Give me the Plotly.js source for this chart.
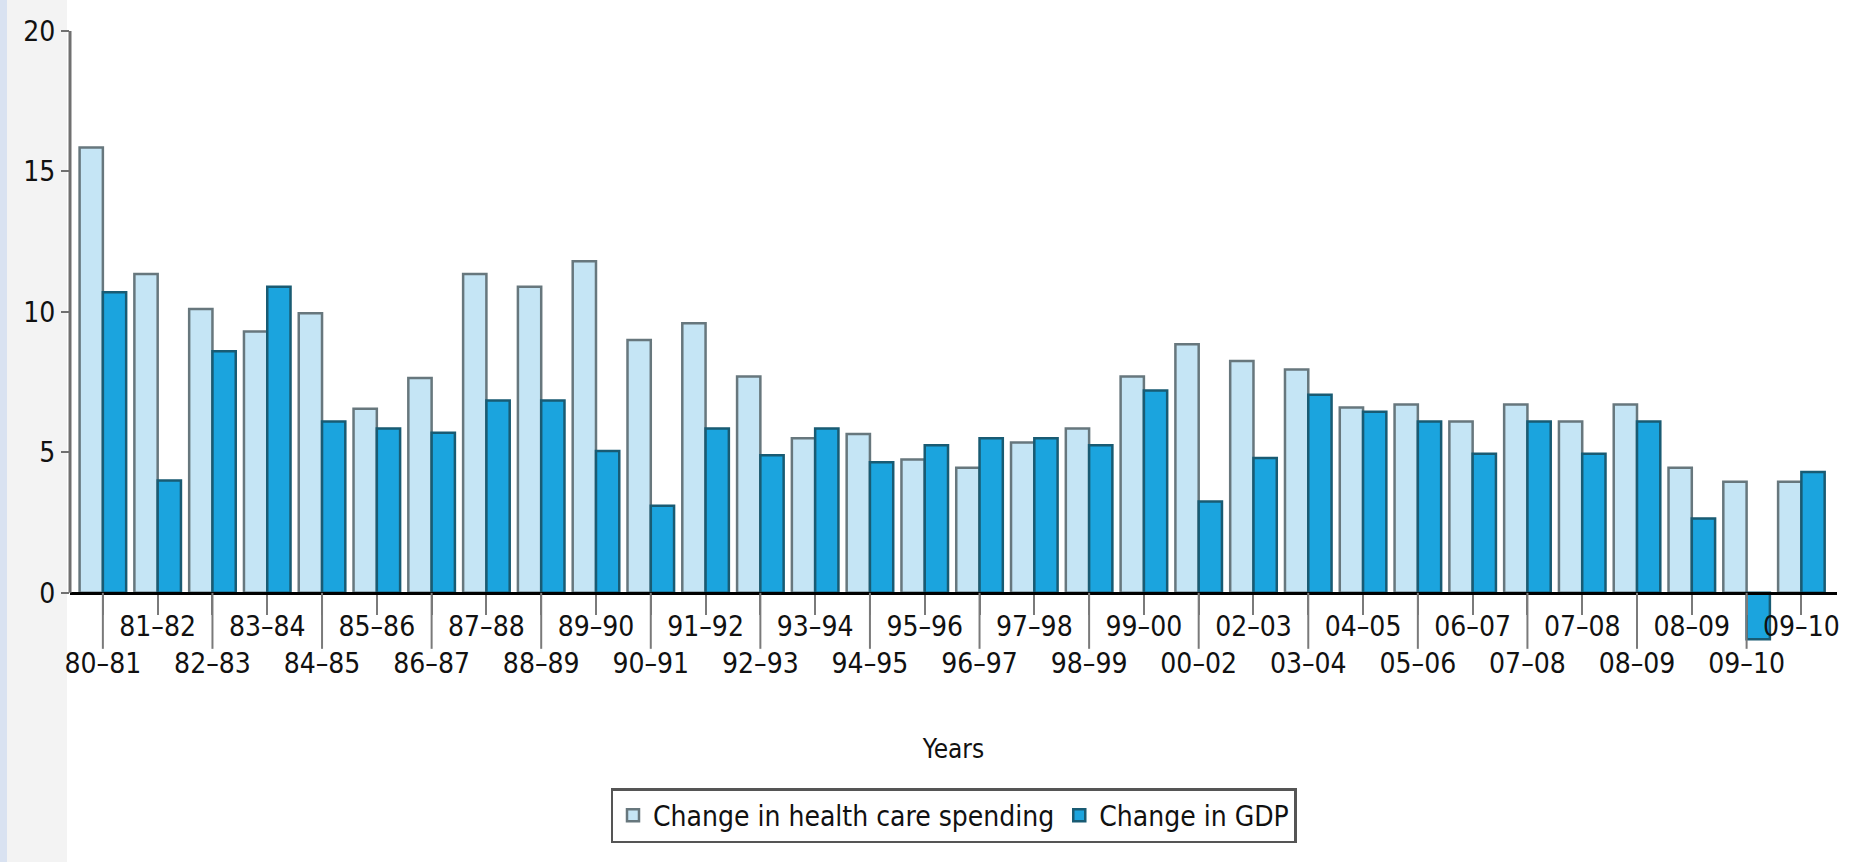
<!DOCTYPE html>
<html>
<head>
<meta charset="utf-8">
<script src="https://cdn.plot.ly/plotly-3.0.1.min.js"></script>
<style>
  html, body { margin: 0; padding: 0; }
  body {
    width: 1858px; height: 862px; overflow: hidden;
    background: linear-gradient(to right, #d9e2f1 0px, #d9e2f1 7px, #f3f3f3 7px, #f3f3f3 67px, #ffffff 67px);
  }
  #chart { width: 1858px; height: 862px; }
</style>
</head>
<body>
<div id="chart"></div>
<script>
// Year periods (x categories, in order)
const periods = ['80–81','81–82','82–83','83–84','84–85','85–86','86–87','87–88','88–89','89–90',
                 '90–91','91–92','92–93','93–94','94–95','95–96','96–97','97–98','98–99','99–00',
                 '00–02','02–03','03–04','04–05','05–06','06–07','07–08','07–08','08–09','08–09',
                 '09–10','09–10'];
// Change in health care spending (%)
const healthSpending = [15.85, 11.35, 10.1, 9.3, 9.95, 6.55, 7.65, 11.35, 10.9, 11.8,
                        9.0, 9.6, 7.7, 5.5, 5.65, 4.75, 4.45, 5.35, 5.85, 7.7,
                        8.85, 8.25, 7.95, 6.6, 6.7, 6.1, 6.7, 6.1, 6.7, 4.45,
                        3.95, 3.95];
// Change in GDP (%)
const gdpChange = [10.7, 4.0, 8.6, 10.9, 6.1, 5.85, 5.7, 6.85, 6.85, 5.05,
                   3.1, 5.85, 4.9, 5.85, 4.65, 5.25, 5.5, 5.5, 5.25, 7.2,
                   3.25, 4.8, 7.05, 6.45, 6.1, 4.95, 6.1, 4.95, 6.1, 2.65,
                   -1.65, 4.3];
const seriesNames = ['Change in health care spending', 'Change in GDP'];
const yTickVals = [0, 5, 10, 15, 20];

const FONT = 'Liberation Sans Narrow, DejaVu Sans Condensed, Arial Narrow, sans-serif';
const idx = periods.map((_, i) => i);
// staggered labels: even positions go to the second row
const tickText = periods.map((p, i) => (i % 2 === 0 ? '<br>' + p : p));

const yRange = [-2, 20];
const zeroPos = -yRange[0] / (yRange[1] - yRange[0]);

const traces = [
  {
    type: 'bar', name: seriesNames[0], x: idx, y: healthSpending,
    marker: { color: '#c5e5f5', line: { color: '#67777d', width: 2.5 } },
    hoverinfo: 'skip'
  },
  {
    type: 'bar', name: seriesNames[1], x: idx, y: gdpChange,
    marker: { color: '#1ba4de', line: { color: '#195b73', width: 2.5 } },
    hoverinfo: 'skip'
  }
];

const shapes = [
  // vertical axis line from 0 to 20
  { type: 'line', xref: 'paper', x0: 0, x1: 0, yref: 'y', y0: 0, y1: 20,
    line: { color: '#707070', width: 3 }, layer: 'above' }
];
// long separator ticks below the axis at every other period
idx.filter(i => i % 2 === 0).forEach(i => {
  shapes.push({ type: 'line', xref: 'x', x0: i, x1: i, yref: 'paper', ysizemode: 'pixel',
    yanchor: zeroPos, y0: 0, y1: -56, line: { color: '#7a7a7a', width: 2 } });
});

const layout = {
  width: 1858, height: 862,
  margin: { l: 70, r: 21, t: 31, b: 213 },
  paper_bgcolor: 'rgba(0,0,0,0)',
  plot_bgcolor: 'rgba(0,0,0,0)',
  barmode: 'group', bargap: 0.15, bargroupgap: 0,
  font: { family: FONT, size: 28, color: '#111' },
  xaxis: {
    type: 'linear', range: [-0.6, 31.65], anchor: 'free', position: zeroPos,
    showline: true, linecolor: '#000', linewidth: 3,
    tickmode: 'array', tickvals: idx, ticktext: tickText, tickangle: 0,
    ticks: 'outside', ticklen: 20, tickwidth: 2, tickcolor: '#7a7a7a',
    ticklabelstandoff: -12,
    tickfont: { family: FONT, size: 28, color: '#111' },
    showgrid: false, zeroline: false, automargin: false,
    title: { text: 'Years', font: { family: FONT, size: 26, color: '#111' }, standoff: 60 }
  },
  yaxis: {
    range: yRange, tickmode: 'array', tickvals: yTickVals,
    ticks: 'outside', ticklen: 8, tickwidth: 2, tickcolor: '#707070',
    tickfont: { family: FONT, size: 28, color: '#111' },
    showline: false, showgrid: false, zeroline: false, automargin: false
  },
  showlegend: true,
  legend: {
    orientation: 'h', x: 0.5, xanchor: 'center', y: -0.225, yanchor: 'top',
    bgcolor: '#ffffff', bordercolor: '#555', borderwidth: 2.5,
    font: { family: FONT, size: 28, color: '#111' }
  },
  shapes: shapes
};

Plotly.newPlot('chart', traces, layout, { displayModeBar: false, staticPlot: true });
</script>
</body>
</html>
